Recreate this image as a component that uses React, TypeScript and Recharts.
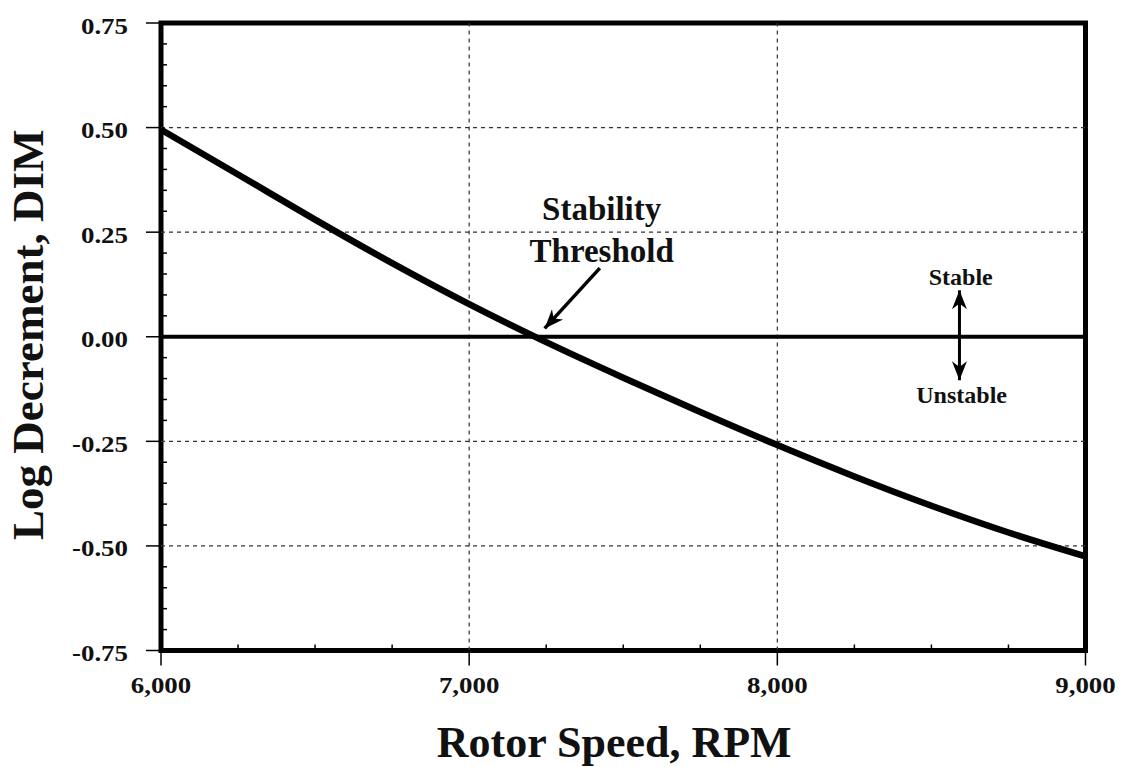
import { Line, LineChart, ReferenceArea, ReferenceDot, ReferenceLine, XAxis, YAxis } from "recharts";

// Log decrement vs rotor speed
const rpm = [6000, 6250, 6500, 6750, 7000, 7250, 7500, 7750, 8000, 8250, 8500, 8750, 9000];
const logDec = [0.495, 0.388, 0.28, 0.176, 0.078, -0.013, -0.098, -0.18, -0.259, -0.334, -0.404, -0.468, -0.525];

const xMajor = [6000, 7000, 8000, 9000];
const yMajor = [-0.75, -0.5, -0.25, 0, 0.25, 0.5, 0.75];
const xGrid = [7000, 8000];
const yGrid = [-0.5, -0.25, 0.25, 0.5];

const data = rpm.map((r, i) => ({ rpm: r, ld: logDec[i] }));

// minor ticks every 250 rpm and every 0.05
const xTicks = Array.from({ length: 13 }, (_, i) => 6000 + i * 250);
const yTicks = Array.from({ length: 31 }, (_, i) => Number(((i - 15) * 0.05).toFixed(2)));

const FONT = '"Liberation Serif", "Times New Roman", serif';

const isMajor = (list: number[], v: number) => list.some((m) => Math.abs(m - v) < 1e-6);

function XTick(props: any) {
  const { x, y, payload } = props;
  const v = payload.value as number;
  const major = isMajor(xMajor, v);
  return (
    <g>
      {major ? (
        <line x1={x} y1={y} x2={x} y2={y + 15} stroke="#000" strokeWidth={1.5} />
      ) : (
        <line x1={x} y1={y} x2={x} y2={y - 6} stroke="#000" strokeWidth={1.5} />
      )}
      {major && (
        <text
          transform={`translate(${x},${y + 42}) scale(1.17,1)`}
          textAnchor="middle"
          fontFamily={FONT}
          fontWeight="bold"
          fontSize={23}
          fill="#111"
        >
          {v.toLocaleString("en-US")}
        </text>
      )}
    </g>
  );
}

function YTick(props: any) {
  const { x, y, payload } = props;
  const v = payload.value as number;
  const major = isMajor(yMajor, v);
  return (
    <g>
      {major ? (
        <line x1={x - 15} y1={y} x2={x} y2={y} stroke="#000" strokeWidth={1.5} />
      ) : (
        <line x1={x} y1={y} x2={x + 6} y2={y} stroke="#000" strokeWidth={1.5} />
      )}
      {major && (
        <text
          transform={`translate(${x - 33},${y + 10.5}) scale(1.17,1)`}
          textAnchor="end"
          fontFamily={FONT}
          fontWeight="bold"
          fontSize={23}
          fill="#111"
        >
          {v.toFixed(2)}
        </text>
      )}
    </g>
  );
}

function head(tx: number, ty: number, fx: number, fy: number, len: number, half: number) {
  const a = Math.atan2(ty - fy, tx - fx);
  const bx = tx - len * Math.cos(a);
  const by = ty - len * Math.sin(a);
  const nx = -Math.sin(a) * half;
  const ny = Math.cos(a) * half;
  const mx = tx - len * 0.7 * Math.cos(a);
  const my = ty - len * 0.7 * Math.sin(a);
  return `M${tx},${ty} L${bx + nx},${by + ny} L${mx},${my} L${bx - nx},${by - ny} Z`;
}

function Arrow(props: any) {
  const { x1, y1, x2, y2, both, width } = props;
  return (
    <g>
      <line x1={x1} y1={y1} x2={x2} y2={y2} stroke="#000" strokeWidth={width} />
      <path d={head(x2, y2, x1, y1, 19, 7.5)} fill="#000" />
      {both && <path d={head(x1, y1, x2, y2, 19, 7.5)} fill="#000" />}
    </g>
  );
}

function Caption(text: string[], size: number, gap: number) {
  return (p: any) => (
    <text
      transform={`translate(${p.cx},${p.cy})`}
      textAnchor="middle"
      fontFamily={FONT}
      fontWeight="bold"
      fontSize={size}
      fill="#111"
    >
      {text.map((t, i) => (
        <tspan key={t} x={0} dy={i === 0 ? 0 : gap}>
          {t}
        </tspan>
      ))}
    </text>
  );
}

function XTitle(props: any) {
  const { viewBox } = props;
  return (
    <text
      x={viewBox.x + viewBox.width / 2 - 9}
      y={viewBox.y + 106}
      textAnchor="middle"
      fontFamily={FONT}
      fontWeight="bold"
      fontSize={44}
      fill="#111"
    >
      Rotor Speed, RPM
    </text>
  );
}

function YTitle(props: any) {
  const { viewBox } = props;
  return (
    <text
      transform={`translate(43,${viewBox.y + viewBox.height / 2 - 2}) rotate(-90)`}
      textAnchor="middle"
      fontFamily={FONT}
      fontWeight="bold"
      fontSize={45}
      fill="#111"
    >
      Log Decrement, DIM
    </text>
  );
}

export default function App() {
  return (
    <div style={{ position: "absolute", left: 0, top: 0, background: "#fff" }}>
      <LineChart width={1121} height={767} data={data} margin={{ top: 23, right: 35.5, bottom: 0, left: 0 }}>
        <XAxis
          dataKey="rpm"
          type="number"
          domain={[6000, 9000]}
          ticks={xTicks}
          interval={0}
          height={116.5}
          axisLine={false}
          tickLine={false}
          tickSize={0}
          tickMargin={0}
          tick={<XTick />}
          label={<XTitle />}
        />
        <YAxis
          type="number"
          domain={[-0.75, 0.75]}
          ticks={yTicks}
          interval={0}
          width={161}
          axisLine={false}
          tickLine={false}
          tickSize={0}
          tickMargin={0}
          tick={<YTick />}
          label={<YTitle />}
        />
        {xGrid.map((v) => (
          <ReferenceLine key={`x${v}`} x={v} stroke="#333" strokeWidth={1.2} strokeDasharray="4 4" />
        ))}
        {yGrid.map((v) => (
          <ReferenceLine key={`y${v}`} y={v} stroke="#333" strokeWidth={1.2} strokeDasharray="4 4" />
        ))}
        <ReferenceLine y={0} stroke="#000" strokeWidth={4} />
        <Line
          type="monotone"
          dataKey="ld"
          stroke="#000"
          strokeWidth={6.5}
          dot={false}
          isAnimationActive={false}
        />
        <ReferenceArea x1={6000} x2={9000} y1={-0.75} y2={0.75} fill="none" stroke="#000" strokeWidth={5} />
        <ReferenceLine
          segment={[
            { x: 7424, y: 0.164 },
            { x: 7245, y: 0.02 },
          ]}
          shape={(p: any) => <Arrow {...p} width={3.5} />}
        />
        <ReferenceLine
          segment={[
            { x: 8591, y: 0.111 },
            { x: 8591, y: -0.104 },
          ]}
          shape={(p: any) => <Arrow {...p} width={3} both />}
        />
        <ReferenceDot x={7430} y={0.279} r={0} shape={Caption(["Stability", "Threshold"], 33, 42)} />
        <ReferenceDot x={8595} y={0.123} r={0} shape={Caption(["Stable"], 24, 0)} />
        <ReferenceDot x={8598} y={-0.159} r={0} shape={Caption(["Unstable"], 24, 0)} />
      </LineChart>
    </div>
  );
}
